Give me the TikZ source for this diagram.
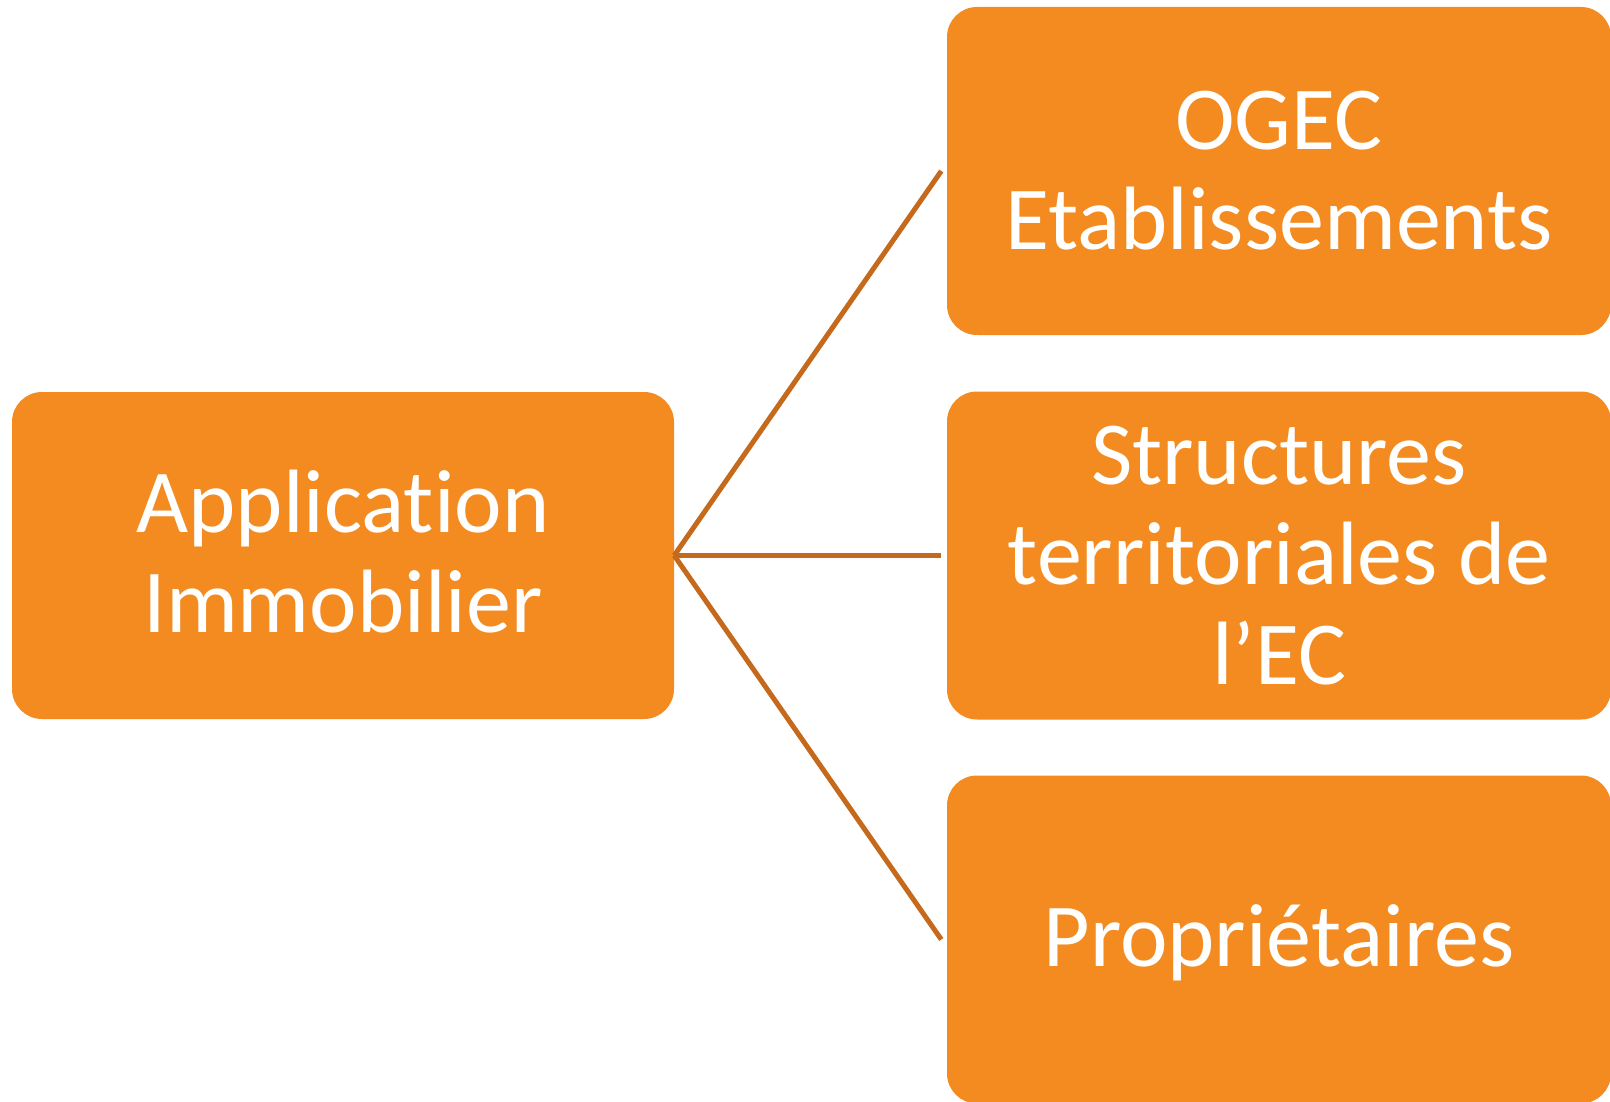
\documentclass[tikz,border=0pt]{standalone}
\usepackage{fontspec}
\setmainfont{Carlito}[Ligatures={NoCommon}]
\definecolor{boxfill}{RGB}{243,139,32}
\definecolor{linkc}{RGB}{197,106,28}
\begin{document}
\begin{tikzpicture}[x=1pt,y=-1pt,
  box/.style={fill=boxfill, draw=none, rounded corners=30pt, text=white, align=center,
    font=\fontsize{90}{100}\selectfont, inner sep=0pt},
  leftbox/.style={box, minimum width=662pt, minimum height=327pt},
  rightbox/.style={box, minimum width=664pt, minimum height=328pt},
  link/.style={draw=linkc, line width=5pt}]
\useasboundingbox (0,0) rectangle (1610,1102);
\clip (0,0) rectangle (1610,1102);
\node[leftbox] (app) at (343,555.5) {};
\node[text=white, align=center, font=\fontsize{90}{100}\selectfont, inner sep=0pt] (apptxt) at (343,552) {Application\\Immobilier};
\node[rightbox] (ogec) at (1279,171) {OGEC\\Etablissements};
\node[rightbox] (struct) at (1279,555.5) {Structures\\territoriales de\\l’EC};
\node[rightbox] (prop) at (1279,939.5) {};
\node[text=white, font=\fontsize{90}{100}\selectfont, inner sep=0pt] (proptxt) at (1279,943) {Propriétaires};
\draw[link] (app.east) -- ([xshift=-5.5pt]ogec.west);
\draw[link] (app.east) -- ([xshift=-5.5pt]struct.west);
\draw[link] (app.east) -- ([xshift=-5.5pt]prop.west);
\end{tikzpicture}
\end{document}
